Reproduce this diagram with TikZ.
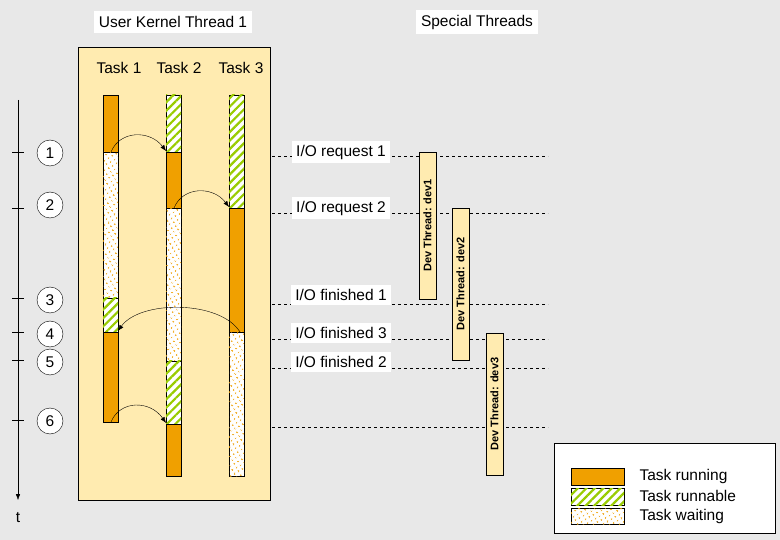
\documentclass[tikz,border=0pt]{standalone}
\usepackage{fontspec}
\setmainfont{Liberation Sans}
\usetikzlibrary{patterns.meta, arrows.meta}
\definecolor{panel}{HTML}{FFEBB0}
\definecolor{run}{HTML}{F0A000}
\definecolor{stripe}{HTML}{99CC00}
\definecolor{backg}{HTML}{E8E8E8}
\tikzset{
	every node/.style={font=\fontsize{15.5}{18}\selectfont, align=center},
	title-node/.style={fill=white, inner sep=5pt},
	label-node/.style={fill=white, inner sep=4pt},
	step-node/.style={circle, draw=black, fill=white, minimum size=26pt, inner sep=0pt},
	running/.style={draw=black, fill=run},
	runnable/.style={draw=black, fill=white, postaction={pattern={Lines[angle=45, distance=6pt, line width=2.2pt]}, pattern color=stripe}},
	waiting/.style={draw=black, fill=white, postaction={pattern={Dots[radius=1pt, distance=4pt, angle=30]}, pattern color=run}},
	dev-node/.style={draw=black, fill=panel, minimum height=17pt, inner sep=0pt, rotate=90, font=\fontsize{11}{13}\selectfont\bfseries},
	switch-arrow/.style={-{Latex[length=6pt]}, thin},
}
\begin{document}
\begin{tikzpicture}[x=1pt, y=-1pt]
	\fill[backg] (0,0) rectangle (780,540);
	\useasboundingbox (0,0) rectangle (780,540);
	% panel and titles
	\draw[fill=panel] (78,47) rectangle (270,500);
	\node[title-node] (ukt) at (173,22) {User Kernel Thread 1};
	\node[title-node] (spt) at (477,22) {Special Threads};
	\node (t1) at (119,68) {Task 1};
	\node (t2) at (179,68) {Task 2};
	\node (t3) at (241,68) {Task 3};
	% task bars
	\newcommand\seg[4]{\path[#4] (#1,#2) rectangle ++(15,#3-#2);}
	\seg{103}{95}{152}{running}
	\seg{103}{152}{298}{waiting}
	\seg{103}{298}{332}{runnable}
	\seg{103}{332}{422}{running}
	\seg{166}{95}{152}{runnable}
	\seg{166}{152}{208}{running}
	\seg{166}{208}{361}{waiting}
	\seg{166}{361}{424}{runnable}
	\seg{166}{424}{476}{running}
	\seg{229}{95}{208}{runnable}
	\seg{229}{208}{332}{running}
	\seg{229}{332}{476}{waiting}
	% context switches
	\coordinate (s1) at (111,152); \coordinate (e1) at (166,151);
	\coordinate (s2) at (174,208); \coordinate (e2) at (229,207);
	\coordinate (s3) at (240,332); \coordinate (e3) at (118,331);
	\coordinate (s4) at (111,422); \coordinate (e4) at (166,423);
	\draw[switch-arrow] (s1) .. controls (120,130) and (150,130) .. (e1);
	\draw[switch-arrow] (s2) .. controls (183,186) and (213,186) .. (e2);
	\draw[switch-arrow] (s3) .. controls (220,300) and (140,300) .. (e3);
	\draw[switch-arrow] (s4) .. controls (120,400) and (150,400) .. (e4);
	% time axis
	\coordinate (ta) at (18,100); \coordinate (tb) at (18,500);
	\draw[-{Latex[length=6pt]}] (ta) -- (tb);
	\node (tlab) at (18,518) {t};
	\foreach \n/\y/\ty in {1/153/152, 2/205/208, 3/300/298, 4/334/332, 5/362/360, 6/421/420} {
		\draw (12,\ty) -- (24,\ty);
		\node[step-node] (c\n) at (50,\y) {\n};
	}
	% I/O events
	\foreach \n/\y in {1/156, 2/213, 3/304, 4/339, 5/368, 6/427} {
		\draw[dashed] (272,\y) -- (548,\y);
	}
	\node[label-node] (io1) at (341,152) {I/O request 1};
	\node[label-node] (io2) at (341,208) {I/O request 2};
	\node[label-node] (io3) at (341,295) {I/O finished 1};
	\node[label-node] (io4) at (341,333) {I/O finished 3};
	\node[label-node] (io5) at (341,362) {I/O finished 2};
	% device threads
	\node[dev-node, minimum width=147pt] (dev1) at (427.5,225.5) {Dev Thread: dev1};
	\node[dev-node, minimum width=152pt] (dev2) at (460.5,284) {Dev Thread: dev2};
	\node[dev-node, minimum width=142pt] (dev3) at (494.5,404) {Dev Thread: dev3};
	% legend
	\draw[fill=white] (554,443) rectangle (775,533);
	\path[running] (571,468) rectangle (624,485);
	\path[runnable] (571,488) rectangle (624,505);
	\path[waiting] (571,508) rectangle (624,524);
	\node[anchor=west] (l1) at (636,476) {Task running};
	\node[anchor=west] (l2) at (636,496) {Task runnable};
	\node[anchor=west] (l3) at (636,516) {Task waiting};
\end{tikzpicture}
\end{document}
